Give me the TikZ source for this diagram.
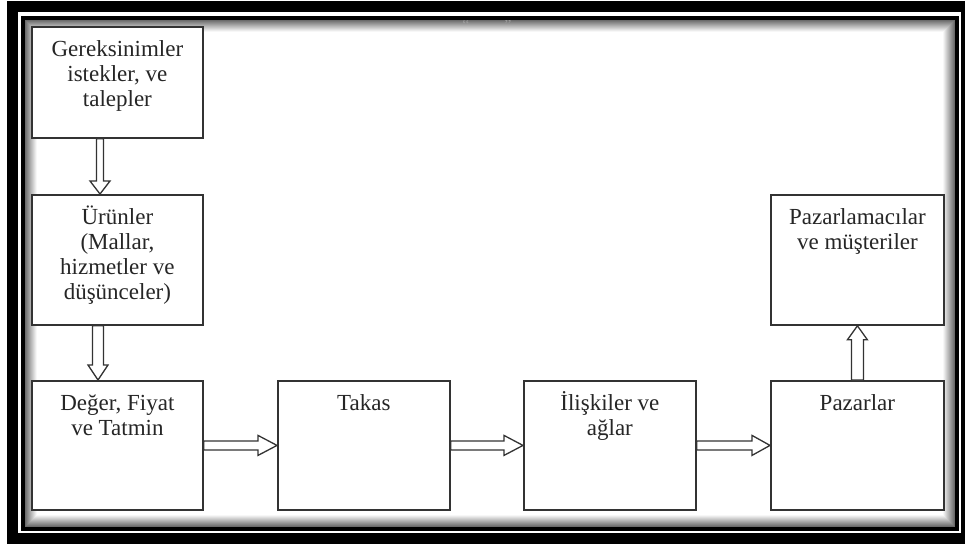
\documentclass[tikz,border=0pt]{standalone}
\usepackage{fontspec}
\setmainfont{Liberation Serif}
\usetikzlibrary{calc}

% box content: fixed-size top-aligned paragraph, first baseline below the top edge
\newcommand\boxtxt[3]{\parbox[t][#2][t]{#1}{\centering\rule{0pt}{29.5pt}#3}}

\tikzset{
  box/.style={draw=black!80, line width=1.8pt, inner sep=0pt, fill=white,
    font=\fontsize{23}{25}\selectfont, text=black!85, anchor=north west},
  arrowline/.style={draw=black!80, line width=1.3pt, fill=white, line join=miter},
  % hollow block arrow: #1 = half shaft width, #2 = head length
  hollow/.style 2 args={to path={
    let \p1=($(\tikztotarget)!#2!(\tikztostart)$) in
    ($(\tikztostart)!#1!90:(\tikztotarget)$) -- ($(\p1)!#1!90:(\tikztotarget)$)
    -- ($(\p1)!10pt!90:(\tikztotarget)$) -- (\tikztotarget)
    -- ($(\p1)!10pt!-90:(\tikztotarget)$) -- ($(\p1)!#1!-90:(\tikztotarget)$)
    -- ($(\tikztostart)!#1!-90:(\tikztotarget)$) -- cycle}}
}

\begin{document}
\begin{tikzpicture}[x=1pt, y=-1pt]
\useasboundingbox (0,0) rectangle (965,547);
\fill[white] (0,0) rectangle (965,547);

% inner shadow of the frame
\foreach \i in {0,...,13} {
  \pgfmathtruncatemacro\c{max(0,58-5*\i)}
  \fill[black!\c] (25+\i,19.5+\i) rectangle (954.5-\i,526.5-\i);
}
\fill[white] (39,33.5) rectangle (940.5,512.5);

% clipped quote marks under the top frame
\node[text=black!40, font=\fontsize{16}{16}\selectfont] (q1) at (466,25) {“};
\node[text=black!40, font=\fontsize{16}{16}\selectfont] (q2) at (508,25) {”};

% frame
\draw[line width=11pt] (12.5,6) rectangle (966.5,538);
\draw[line width=4pt] (23,17.5) rectangle (956.5,528.5);

% boxes
\node[box] (b1) at (31,26)  {\boxtxt{171pt}{111pt}{Gereksinimler\\istekler, ve\\talepler}};
\node[box] (b2) at (31,194) {\boxtxt{171pt}{130pt}{Ürünler\\(Mallar,\\hizmetler ve\\düşünceler)}};
\node[box] (b3) at (31,380) {\boxtxt{171pt}{129pt}{Değer, Fiyat\\ve Tatmin}};
\node[box] (b4) at (277,380) {\boxtxt{172pt}{129pt}{Takas}};
\node[box] (b5) at (523,380) {\boxtxt{172pt}{129pt}{İlişkiler ve\\ağlar}};
\node[box] (b6) at (770,380) {\boxtxt{173pt}{129pt}{Pazarlar}};
\node[box] (b7) at (770,194) {\boxtxt{173pt}{130pt}{Pazarlamacılar\\ve müşteriler}};

% connectors
\coordinate (a1s) at ([xshift=69pt]b1.south west);
\coordinate (a1e) at ([xshift=69pt]b2.north west);
\coordinate (a2s) at ([xshift=67pt]b2.south west);
\coordinate (a2e) at ([xshift=67pt]b3.north west);
\draw[arrowline] (a1s) to[hollow={3.5pt}{13pt}] (a1e);
\draw[arrowline] (a2s) to[hollow={5.5pt}{15pt}] (a2e);
\draw[arrowline] (b3.east) to[hollow={4.5pt}{19pt}] (b4.west);
\draw[arrowline] (b4.east) to[hollow={4.5pt}{19pt}] (b5.west);
\draw[arrowline] (b5.east) to[hollow={4.5pt}{18pt}] (b6.west);
\draw[arrowline] (b6.north) to[hollow={6pt}{14pt}] (b7.south);
\end{tikzpicture}
\end{document}
